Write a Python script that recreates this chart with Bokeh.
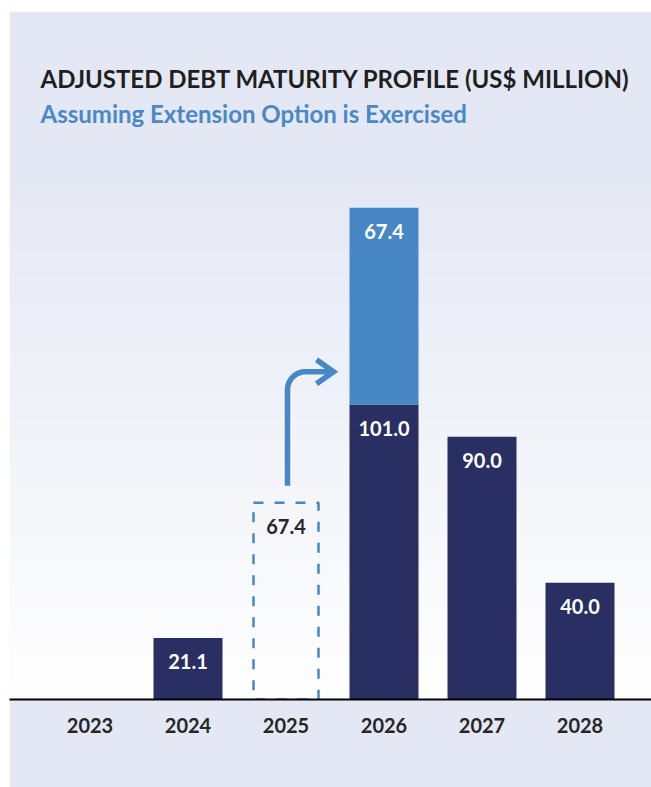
import numpy as np
from bokeh.plotting import figure
from bokeh.models import Range1d, FixedTicker, Label
from bokeh.core.properties import value
from bokeh.embed import file_html
from bokeh.resources import INLINE

# ---- data ----
years = ["2023", "2024", "2025", "2026", "2027", "2028"]
debt = [0.0, 21.1, 0.0, 101.0, 90.0, 40.0]          # adjusted maturities
extended = [0.0, 0.0, 0.0, 67.4, 0.0, 0.0]          # extension moved into 2026
original_2025 = 67.4                                 # original 2025 maturity (dashed)
title_text = "ADJUSTED DEBT MATURITY PROFILE (US$ MILLION)"
subtitle_text = "Assuming Extension Option is Exercised"

# ---- style ----
DARK = "#2a2f63"
LIGHT = "#4787c5"
LAV = (228, 232, 244)
FONT = "Lato"

OX, OY = 9, 11               # page offset of the panel
W, H = 651 - OX, 787 - OY
AXIS_Y = 699                 # page y of baseline
frame_h = AXIS_Y - OY
BOTTOM = H - frame_h
PXX = 98.0      # px per category
PXY = 2.92      # px per US$ million
C0 = 89.5       # page x of first category
x0 = (OX - C0) / PXX
x1 = x0 + W / PXX
y1 = frame_h / PXY

p = figure(width=W, height=H, output_backend="svg", toolbar_location=None,
           x_range=Range1d(x0, x1), y_range=Range1d(0, y1),
           min_border_left=0, min_border_right=0, min_border_top=0,
           min_border_bottom=BOTTOM, y_axis_location=None)
p.margin = (OY, 0, 0, OX)
p.border_fill_color = "#e4e8f4"
p.outline_line_color = None
p.grid.visible = False

# gradient background of the plot area (lavender -> white)
rows = frame_h
img = np.zeros((rows, 1), dtype=np.uint32)
view = img.view(dtype=np.uint8).reshape((rows, 1, 4))
for r in range(rows):
    page_y = AXIS_Y - r          # row 0 is bottom
    t = np.clip((page_y - 170) / (690 - 170), 0, 1)
    c = [int(round(LAV[k] + (254 - LAV[k]) * t)) for k in range(3)]
    view[r, 0, 0], view[r, 0, 1], view[r, 0, 2], view[r, 0, 3] = c[0], c[1], c[2], 255
p.image_rgba(image=[img], x=x0, y=0, dw=x1 - x0, dh=y1)

xs = list(range(len(years)))
BW = 69 / PXX

# bars (only years with a value)
bx = [i for i, d in enumerate(debt) if d > 0]
bt = [d for d in debt if d > 0]
p.vbar(x=bx, top=bt, width=BW, fill_color=DARK, line_color=None)
ex = [i for i, e in enumerate(extended) if e > 0]
eb = [debt[i] for i in ex]
et = [debt[i] + extended[i] for i in ex]
p.vbar(x=ex, bottom=eb, top=et, width=BW, fill_color=LIGHT, line_color=None)

# dashed original 2025 box
i25 = years.index("2025")
p.vbar(x=[i25], top=[original_2025], width=65 / PXX, fill_color=None,
       line_color=LIGHT, line_width=2.5, line_dash="10 11")

# value labels
off = 23.5 / PXY
lx, ly, lt, lc = [], [], [], []
for i, (d, e) in enumerate(zip(debt, extended)):
    if d > 0:
        lx.append(i); ly.append(d - off); lt.append(f"{d:.1f}"); lc.append("white")
    if e > 0:
        lx.append(i); ly.append(d + e - off); lt.append(f"{e:.1f}"); lc.append("white")
lx.append(i25); ly.append(original_2025 - off); lt.append(f"{original_2025:.1f}"); lc.append("#262626")
p.text(x=lx, y=ly, text=lt, text_color=lc, text_font=value(FONT), text_font_style="bold",
       text_font_size="20px", text_align="center", text_baseline="middle")

# arrow from 2025 to 2026
ax = i25 + 1.5 / PXX
ay0 = original_2025 + 17 / PXY
ay_h = ay0 + 114 / PXY
rad = 18
tip_x = i25 + 47.5 / PXX
px_, py_ = [ax, ax], [ay0, ay_h - rad / PXY]
for k in range(1, 13):
    a = np.pi - k * (np.pi / 2) / 12
    px_.append(ax + (rad + rad * np.cos(a)) / PXX)
    py_.append(ay_h - rad / PXY + rad * np.sin(a) / PXY)
px_.append(tip_x); py_.append(ay_h)
p.line(px_, py_, line_color=LIGHT, line_width=5.5, line_join="round")
p.line([tip_x - 17 / PXX, tip_x, tip_x - 17 / PXX],
       [ay_h + 12 / PXY, ay_h, ay_h - 12 / PXY],
       line_color=LIGHT, line_width=5.5, line_join="miter")

# x axis
ax_ = p.xaxis[0]
ax_.ticker = FixedTicker(ticks=xs)
ax_.major_label_overrides = {i: y for i, y in enumerate(years)}
ax_.axis_line_color = "black"
ax_.axis_line_width = 2
ax_.major_tick_line_color = None
ax_.minor_tick_line_color = None
ax_.major_tick_out = 0
ax_.major_tick_in = 0
ax_.major_label_standoff = 18
ax_.major_label_text_font = FONT
ax_.major_label_text_font_style = "bold"
ax_.major_label_text_font_size = "20px"
ax_.major_label_text_color = "#262626"

# titles
tx = (40 - C0) / PXX
p.add_layout(Label(x=tx, y=(AXIS_Y - 78) / PXY, text=title_text, text_font=FONT,
                   text_font_style="bold", text_font_size="24px", text_color="#1f1f1f",
                   text_baseline="middle"))
p.add_layout(Label(x=tx, y=(AXIS_Y - 113) / PXY, text=subtitle_text, text_font=FONT,
                   text_font_style="bold", text_font_size="24px", text_color="#4a88c7",
                   text_baseline="middle"))

open("out.html", "w").write(file_html(p, INLINE))
